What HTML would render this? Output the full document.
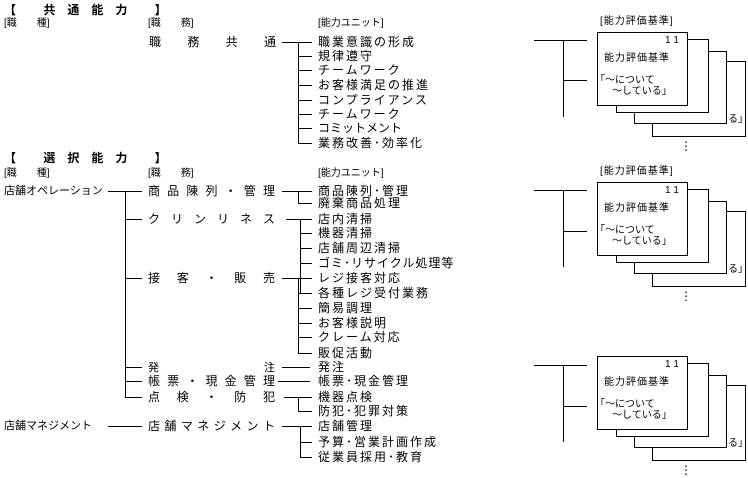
<!DOCTYPE html>
<html><head><meta charset="utf-8"><style>
body{margin:0;background:#fff;}
#w{position:relative;width:748px;height:478px;overflow:hidden;font-family:"Liberation Sans","Noto Sans CJK JP",sans-serif;color:#000;}
.t{position:absolute;white-space:nowrap;font-size:12px;line-height:14px;}
.s{font-size:10px;line-height:12px;}
.h{font-weight:bold;font-size:12px;}
.u{letter-spacing:2px;}
.sp{position:absolute;display:flex;justify-content:space-between;font-size:12px;line-height:14px;white-space:nowrap;}
.c{position:absolute;border:1px solid #000;background:#fff;}
svg{position:absolute;left:0;top:0;}
</style></head><body><div id="w">
<svg width="748" height="478" stroke="#000" stroke-width="1" fill="none" shape-rendering="crispEdges">
<path d="M282 42.5H312M298.5 42.5V143M298 56.5H312M298 70.5H312M298 85.5H312M298 100.5H312M298 114.5H312M298 128.5H312M298 143.5H312"/>
<path d="M108 191.5H142M125.5 191.5V397M125 219.5H142M125 278.5H142M125 367.5H142M125 381.5H142M125 397.5H142"/>
<path d="M282 191.5H312M298.5 191.5V203M298 203.5H312"/>
<path d="M286 219.5H312M300.5 219.5V293M300 233.5H312M300 248.5H312M300 263.5H312M300 293.5H312"/>
<path d="M282 278.5H312M298.5 278.5V353M298 293.5H312M298 308.5H312M298 323.5H312M298 337.5H312M298 353.5H312"/>
<path d="M282 367.5H310M278 381.5H310M284 397.5H312M298.5 397.5V411M298 411.5H312"/>
<path d="M108 426.5H142M282 426.5H312M300.5 426.5V457M300 442.5H312M300 457.5H312"/>
<path d="M534 40.5H587M563.5 40.5V117M563 80.5H587"/>
<path d="M534 190.5H587M563.5 190.5V267M563 231.5H587"/>
<path d="M534 365.5H587M563.5 365.5V442M563 406.5H587"/>
</svg>

<div class="t h" style="left:4px;top:3px;letter-spacing:12px">【 共通能力 】</div>
<div class="t s" style="left:4px;top:18px">[職　　種]</div>
<div class="t s" style="left:148px;top:18px">[職　　務]</div>
<div class="t s" style="left:318px;top:18px">[能力ユニット]</div>
<div class="sp" style="left:149px;top:35px;width:127px"><span>職</span><span>務</span><span>共</span><span>通</span></div>
<div class="t u" style="left:318px;top:35px">職業意識の形成</div>
<div class="t u" style="left:318px;top:49px">規律遵守</div>
<div class="t u" style="left:318px;top:63px">チームワーク</div>
<div class="t u" style="left:318px;top:78px">お客様満足の推進</div>
<div class="t u" style="left:318px;top:93px">コンプライアンス</div>
<div class="t u" style="left:318px;top:107px">チームワーク</div>
<div class="t" style="left:318px;top:121px">コミットメント</div>
<div class="t u" style="left:318px;top:136px">業務改善･効率化</div>

<div class="t h" style="left:4px;top:151px;letter-spacing:12px">【 選択能力 】</div>
<div class="t s" style="left:4px;top:168px">[職　　種]</div>
<div class="t s" style="left:148px;top:168px">[職　　務]</div>
<div class="t s" style="left:318px;top:168px">[能力ユニット]</div>
<div class="t" style="left:4px;top:184px;font-size:11px">店舗オペレーション</div>
<div class="sp" style="left:148px;top:184px;width:127px"><span>商</span><span>品</span><span>陳</span><span>列</span><span>・</span><span>管</span><span>理</span></div>
<div class="sp" style="left:148px;top:212px;width:127px"><span>ク</span><span>リ</span><span>ン</span><span>リ</span><span>ネ</span><span>ス</span></div>
<div class="sp" style="left:148px;top:271px;width:127px"><span>接</span><span>客</span><span>・</span><span>販</span><span>売</span></div>
<div class="sp" style="left:148px;top:361px;width:127px;font-size:11px"><span>発</span><span>注</span></div>
<div class="sp" style="left:148px;top:374px;width:127px"><span>帳</span><span>票</span><span>・</span><span>現</span><span>金</span><span>管</span><span>理</span></div>
<div class="sp" style="left:148px;top:390px;width:127px"><span>点</span><span>検</span><span>・</span><span>防</span><span>犯</span></div>
<div class="t" style="left:4px;top:419px;font-size:11px">店舗マネジメント</div>
<div class="sp" style="left:148px;top:419px;width:127px"><span>店</span><span>舗</span><span>マ</span><span>ネ</span><span>ジ</span><span>メ</span><span>ン</span><span>ト</span></div>

<div class="t u" style="left:318px;top:184px">商品陳列･管理</div>
<div class="t u" style="left:318px;top:196px">廃棄商品処理</div>
<div class="t u" style="left:318px;top:212px">店内清掃</div>
<div class="t u" style="left:318px;top:226px">機器清掃</div>
<div class="t u" style="left:318px;top:241px">店舗周辺清掃</div>
<div class="t" style="left:318px;top:256px;letter-spacing:1px">ゴミ･リサイクル処理等</div>
<div class="t u" style="left:318px;top:271px">レジ接客対応</div>
<div class="t u" style="left:318px;top:286px">各種レジ受付業務</div>
<div class="t u" style="left:318px;top:301px">簡易調理</div>
<div class="t u" style="left:318px;top:316px">お客様説明</div>
<div class="t u" style="left:318px;top:330px">クレーム対応</div>
<div class="t u" style="left:318px;top:346px">販促活動</div>
<div class="t u" style="left:318px;top:360px">発注</div>
<div class="t u" style="left:318px;top:374px">帳票･現金管理</div>
<div class="t u" style="left:318px;top:390px">機器点検</div>
<div class="t u" style="left:318px;top:404px">防犯･犯罪対策</div>
<div class="t u" style="left:318px;top:419px">店舗管理</div>
<div class="t u" style="left:318px;top:435px">予算･営業計画作成</div>
<div class="t u" style="left:318px;top:450px">従業員採用･教育</div>

<div class="t s" style="left:600px;top:16px;letter-spacing:1px">[能力評価基準]</div>
<div class="t s" style="left:600px;top:166px;letter-spacing:1px">[能力評価基準]</div>

<div style="position:absolute;left:0;top:0">
 <div class="c" style="left:652px;top:61px;width:92px;height:74px"><span class="t s" style="left:55px;top:52px">ている｣</span><span class="t s" style="left:2px;top:4px">4</span></div>
 <div class="c" style="left:634px;top:51px;width:91px;height:71px"><span class="t s" style="left:55px;top:48px">る｣</span><span class="t s" style="left:2px;top:4px">3</span></div>
 <div class="c" style="left:616px;top:39px;width:91px;height:72px"><span class="t s" style="left:55px;top:48px">る｣</span><span class="t s" style="left:2px;top:4px">2</span></div>
 <div class="c" style="left:597px;top:32px;width:89px;height:72px"><span class="t s" style="left:67px;top:2px">1 1</span><span class="t s" style="left:6px;top:20px;letter-spacing:1px">能力評価基準</span><span class="t s" style="left:2px;top:42px">｢～について</span><span class="t s" style="left:14px;top:53px">～している｣</span></div>
 <div class="t" style="left:680px;top:139px">⋮</div>
</div>
<div style="position:absolute;left:0;top:150px">
 <div class="c" style="left:652px;top:61px;width:92px;height:74px"><span class="t s" style="left:55px;top:52px">ている｣</span><span class="t s" style="left:2px;top:4px">4</span></div>
 <div class="c" style="left:634px;top:51px;width:91px;height:71px"><span class="t s" style="left:55px;top:48px">る｣</span><span class="t s" style="left:2px;top:4px">3</span></div>
 <div class="c" style="left:616px;top:39px;width:91px;height:72px"><span class="t s" style="left:55px;top:48px">る｣</span><span class="t s" style="left:2px;top:4px">2</span></div>
 <div class="c" style="left:597px;top:32px;width:89px;height:72px"><span class="t s" style="left:67px;top:2px">1 1</span><span class="t s" style="left:6px;top:20px;letter-spacing:1px">能力評価基準</span><span class="t s" style="left:2px;top:42px">｢～について</span><span class="t s" style="left:14px;top:53px">～している｣</span></div>
 <div class="t" style="left:680px;top:139px">⋮</div>
</div>
<div style="position:absolute;left:0;top:324px">
 <div class="c" style="left:652px;top:61px;width:92px;height:74px"><span class="t s" style="left:55px;top:52px">ている｣</span><span class="t s" style="left:2px;top:4px">4</span></div>
 <div class="c" style="left:634px;top:51px;width:91px;height:71px"><span class="t s" style="left:55px;top:48px">る｣</span><span class="t s" style="left:2px;top:4px">3</span></div>
 <div class="c" style="left:616px;top:39px;width:91px;height:72px"><span class="t s" style="left:55px;top:48px">る｣</span><span class="t s" style="left:2px;top:4px">2</span></div>
 <div class="c" style="left:597px;top:32px;width:89px;height:72px"><span class="t s" style="left:67px;top:2px">1 1</span><span class="t s" style="left:6px;top:20px;letter-spacing:1px">能力評価基準</span><span class="t s" style="left:2px;top:42px">｢～について</span><span class="t s" style="left:14px;top:53px">～している｣</span></div>
 <div class="t" style="left:680px;top:139px">⋮</div>
</div>
</div></body></html>
